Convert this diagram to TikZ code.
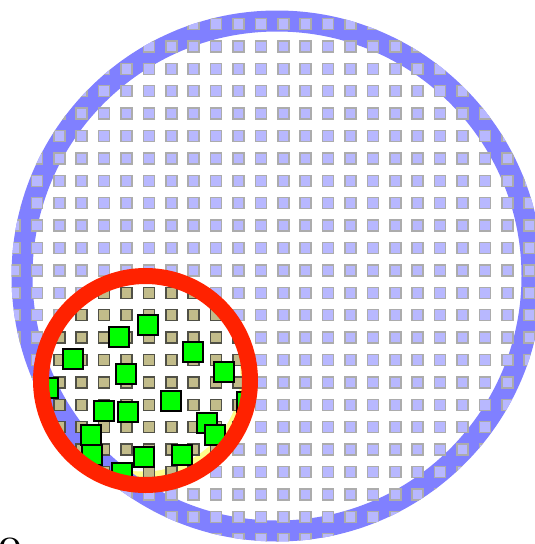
\documentclass[tikz,border=0pt]{standalone}
\definecolor{ringblue}{RGB}{128,128,255}
\definecolor{sqblue}{RGB}{184,184,255}
\definecolor{sqgray}{RGB}{172,172,172}
\definecolor{olivefill}{RGB}{194,188,138}
\definecolor{olivedraw}{RGB}{80,80,70}
\definecolor{limegreen}{RGB}{0,255,0}
\definecolor{ringred}{RGB}{255,34,0}
\definecolor{paleyellow}{RGB}{255,255,140}
\begin{document}
\begin{tikzpicture}[x=1pt,y=-1pt,
  bsq/.style={fill=sqblue,draw=sqgray,line width=1.5pt},
  osq/.style={fill=olivefill,draw=olivedraw,line width=1.5pt},
  gsq/.style={fill=limegreen,draw=black,line width=1.5pt},
  bluering/.style={draw=ringblue,line width=21pt},
  redring/.style={draw=ringred,line width=16pt}]
\useasboundingbox (0,0) rectangle (535,544);
\coordinate (big) at (277,276);
\coordinate (small) at (145.5,380.5);
% big circle ring
\path[bluering] (big) circle[radius=255];
% blue grid
\begin{scope}
  \clip (big) circle[radius=265.5];
  \foreach \i in {-10,...,13}{
    \foreach \j in {0,...,23}{
      \path[bsq] ({238.5+22.4*\i-5.5},{24+22.4*\j-5.5}) rectangle ++(11,11);
    }
  }
\end{scope}
% small circle contents
\begin{scope}
  \clip (small) circle[radius=97];
  \fill[paleyellow] (small) circle[radius=97];
  \fill[white] ([shift={(-2,-6)}]small) circle[radius=97];
  \path[bluering] (big) circle[radius=255];
  \foreach \i in {-10,...,1}{
    \foreach \j in {10,...,21}{
      \path[osq] ({238.5+22.4*\i-5.5},{24+22.4*\j-5.5}) rectangle ++(11,11);
    }
  }
  \foreach \x/\y in {148/325,119/337,73/359,193/352,224/372,126/374,48/388,171/401,247/402,104/411,128/412,207/423,215/435,91/435,92/455,144/457,182/455,122/473}{
    \path[gsq] ({\x-10},{\y-10}) rectangle ++(20,20);
  }
\end{scope}
\path[redring] (small) circle[radius=104.5];
\node[anchor=base west,inner sep=0pt,font=\fontsize{28}{28}\selectfont\bfseries] (lbl) at (-2,557) {O};
\end{tikzpicture}
\end{document}
